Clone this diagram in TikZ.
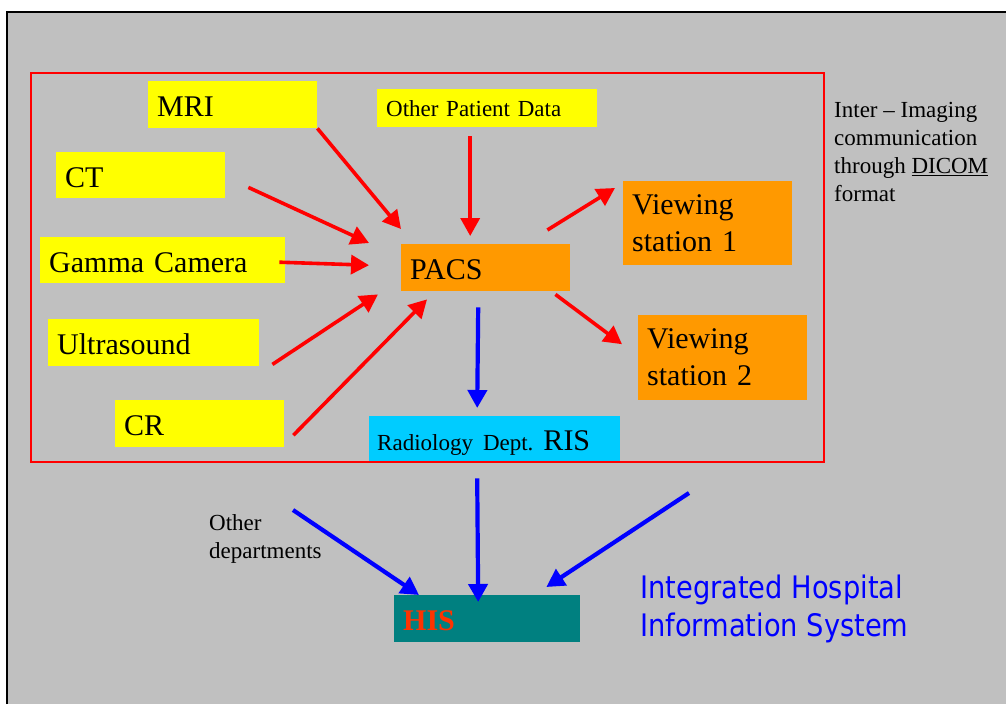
\documentclass[tikz,border=0pt]{standalone}
\usepackage{fontspec}
\setmainfont{Liberation Serif}
\newfontfamily\ihisfont[FakeStretch=0.88]{DejaVu Sans}
\usepackage{xcolor}
\usepackage{tikz}
\usetikzlibrary{arrows.meta}
\definecolor{slidegray}{RGB}{192,192,192}
\definecolor{modyellow}{RGB}{255,255,0}
\definecolor{pacsorange}{RGB}{255,153,0}
\definecolor{riscyan}{RGB}{0,204,255}
\definecolor{histeal}{RGB}{0,128,128}
\definecolor{hisred}{RGB}{255,51,0}
\definecolor{netred}{RGB}{255,0,0}
\definecolor{netblue}{RGB}{0,0,255}
\newcommand{\boxfont}{\fontsize{30}{37}\selectfont}
\newcommand{\notefont}{\fontsize{23}{28}\selectfont}

\begin{document}
\begin{tikzpicture}[x=1pt, y=-1pt,
    box/.style={anchor=north west, inner xsep=9pt, inner ysep=0pt, align=left, font=\boxfont},
    onebox/.style={box, text depth=0pt, text height=24pt},
    note/.style={anchor=north west, inner sep=0pt, align=left, font=\notefont},
    redarrow/.style={draw=netred, line width=3.6pt, -{Triangle[length=18pt,width=19pt]}},
    bluearrow/.style={draw=netblue, line width=4.2pt, -{Triangle[length=18pt,width=19pt]}}]
    \useasboundingbox (0,0) rectangle (1006,704);
    \fill[white] (0,0) rectangle (1006,704);
    \fill[slidegray] (7,12) rectangle (1006,704);
    \draw[line width=2.2pt] (7,704) -- (7,12) -- (1006,12);

    % imaging sources
    \node[onebox, fill=modyellow, text width=151pt, minimum height=47pt] (mri) at (148,81) {MRI};
    \node[onebox, fill=modyellow, text width=151pt, minimum height=46pt] (ct) at (56,152) {CT};
    \node[onebox, fill=modyellow, text width=227pt, minimum height=46pt] (gamma) at (40,237) {Gamma Camera};
    \node[onebox, fill=modyellow, text width=193pt, minimum height=47pt] (ultra) at (48,319) {Ultrasound};
    \node[onebox, fill=modyellow, text width=151pt, minimum height=47pt] (cr) at (115,400) {CR};
    \node[onebox, fill=modyellow, text width=202pt, minimum height=38pt, font=\notefont, text height=16pt] (opd) at (377,89) {Other Patient Data};

    \node[onebox, fill=pacsorange, text width=151pt, minimum height=47pt] (pacs) at (401,244) {PACS};
    \node[box, fill=pacsorange, text width=151pt, minimum height=84pt] (vs1) at (623,181) {Viewing\\station 1};
    \node[box, fill=pacsorange, text width=151pt, minimum height=85pt] (vs2) at (638,315) {Viewing\\station 2};
    \node[onebox, fill=riscyan, text width=235pt, minimum height=46pt, inner xsep=8pt, text height=22pt] (ris) at (369,416) {{\notefont Radiology Dept.\ }RIS};
    \node[onebox, fill=histeal, text width=168pt, minimum height=47pt, font=\boxfont\bfseries, text=hisred, text height=23pt] (his) at (394,595) {HIS};

    \draw[netred, line width=2pt] (31,73) rectangle (824,462);

    \node[note] (dicom) at (834,102) {Inter -- Imaging\\communication\\through \underline{DICOM}\\format};
    \node[note] (othdep) at (209,514) {Other\\departments};
    \node[anchor=north west, inner sep=0pt, align=left, text=netblue,
          font=\ihisfont\fontsize{31}{38}\selectfont] (ihis) at (640,575) {Integrated Hospital\\Information System};

    \coordinate (othdepout) at (293,510);
    \coordinate (ihisout) at (689,493);

    \draw[redarrow] (mri.south east) -- ([yshift=15pt]pacs.north west);
    \draw[redarrow] ([xshift=23pt,yshift=11pt]ct.south east) -- ([xshift=-32pt,yshift=1pt]pacs.north west);
    \draw[redarrow] ([xshift=-6pt,yshift=-2pt]gamma.east) -- ([xshift=-32pt,yshift=2.5pt]pacs.west);
    \draw[redarrow] ([xshift=13pt,yshift=2pt]ultra.south east) -- ([xshift=-23pt,yshift=-3pt]pacs.south west);
    \draw[redarrow] ([xshift=9pt,yshift=-11.5pt]cr.east) -- ([xshift=26pt,yshift=-8pt]pacs.south west);
    \draw[redarrow] ([xshift=-17pt,yshift=-9pt]opd.south) -- ([xshift=-15.5pt,yshift=8pt]pacs.north);
    \draw[redarrow] ([xshift=-23pt,yshift=14pt]pacs.north east) -- ([xshift=-8pt,yshift=-7pt]vs1.north west);
    \draw[redarrow] ([xshift=-15pt,yshift=-3pt]pacs.south east) -- ([xshift=-16pt,yshift=13.5pt]vs2.west);

    \draw[bluearrow] ([xshift=-7.5pt,yshift=-16pt]pacs.south) -- ([xshift=-17.5pt,yshift=8pt]ris.north);
    \draw[bluearrow] ([xshift=-17.5pt,yshift=-16pt]ris.south) -- ([xshift=-9pt,yshift=-7pt]his.north);
    \draw[bluearrow] (othdepout) -- ([xshift=25pt]his.north west);
    \draw[bluearrow] (ihisout) -- ([xshift=-34pt,yshift=8pt]his.north east);
\end{tikzpicture}
\end{document}
